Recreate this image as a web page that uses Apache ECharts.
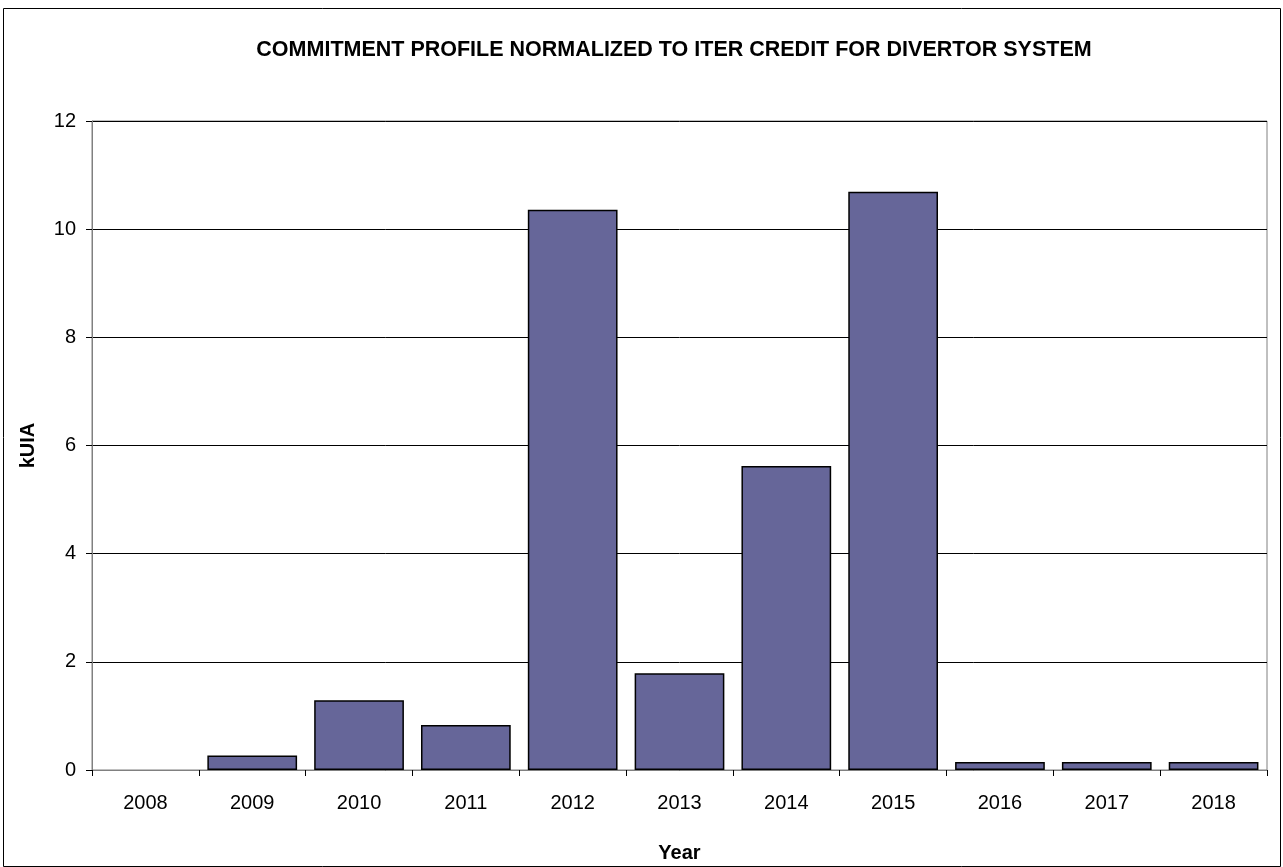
<!DOCTYPE html>
<html>
<head>
<meta charset="utf-8">
<script src="https://cdn.jsdelivr.net/npm/echarts@6/dist/echarts.min.js"></script>
<style>
  html, body { margin: 0; padding: 0; background: #fff; }
  #chart { width: 1283px; height: 867px; }
</style>
</head>
<body>
<div id="chart"></div>
<script>
// Divertor system commitment profile, kUIA per year
const years = ['2008', '2009', '2010', '2011', '2012', '2013', '2014', '2015', '2016', '2017', '2018'];
const kuia = [0, 0.27, 1.29, 0.83, 10.36, 1.79, 5.62, 10.69, 0.15, 0.15, 0.15];
const yTicks = { min: 0, max: 12, interval: 2 };

const font = 'Liberation Sans, Arial, sans-serif';
const chart = echarts.init(document.getElementById('chart'), null, { renderer: 'canvas' });

// zero-height bars get no outline so they leave no stray line on the axis
const barData = kuia.map(v => (v === 0 ? { value: v, itemStyle: { borderWidth: 0 } } : v));

chart.setOption({
  backgroundColor: '#ffffff',
  animation: false,
  title: {
    text: 'COMMITMENT PROFILE NORMALIZED TO ITER CREDIT FOR DIVERTOR SYSTEM',
    left: 669,
    top: 34,
    textAlign: 'center',
    textStyle: { fontFamily: font, fontSize: 21.5, fontWeight: 'bold', color: '#000' }
  },
  graphic: [{
    type: 'rect',
    shape: { x: 3.5, y: 8.5, width: 1277, height: 858 },
    style: { fill: 'none', stroke: '#000', lineWidth: 1 },
    silent: true
  }],
  grid: {
    left: 92, right: 16, top: 121, bottom: 97,
    containLabel: false,
    outerBoundsMode: 'none',
    show: true, borderColor: '#808080', borderWidth: 1
  },
  xAxis: {
    type: 'category',
    data: years,
    name: 'Year',
    nameLocation: 'middle',
    nameGap: 73,
    nameTextStyle: { fontFamily: font, fontSize: 20, fontWeight: 'bold', color: '#000' },
    axisLine: { lineStyle: { color: '#808080', width: 1 } },
    axisTick: { show: true, alignWithLabel: false, length: 6, lineStyle: { color: '#000' } },
    axisLabel: { fontFamily: font, fontSize: 20, color: '#000', margin: 23 },
    splitLine: { show: false }
  },
  yAxis: {
    type: 'value',
    min: yTicks.min,
    max: yTicks.max,
    interval: yTicks.interval,
    name: 'kUIA',
    nameLocation: 'middle',
    nameGap: 54,
    nameRotate: 90,
    nameTextStyle: { fontFamily: font, fontSize: 20, fontWeight: 'bold', color: '#000' },
    axisLine: { show: true, lineStyle: { color: '#808080', width: 1 } },
    axisTick: { show: true, length: 6, lineStyle: { color: '#000' } },
    axisLabel: { fontFamily: font, fontSize: 20, color: '#000', margin: 16 },
    splitLine: { show: true, lineStyle: { color: '#000', width: 1 } }
  },
  series: [{
    type: 'bar',
    data: barData,
    barCategoryGap: '16%',
    itemStyle: { color: '#666699', borderColor: '#000', borderWidth: 1.5 }
  }]
});
</script>
</body>
</html>
